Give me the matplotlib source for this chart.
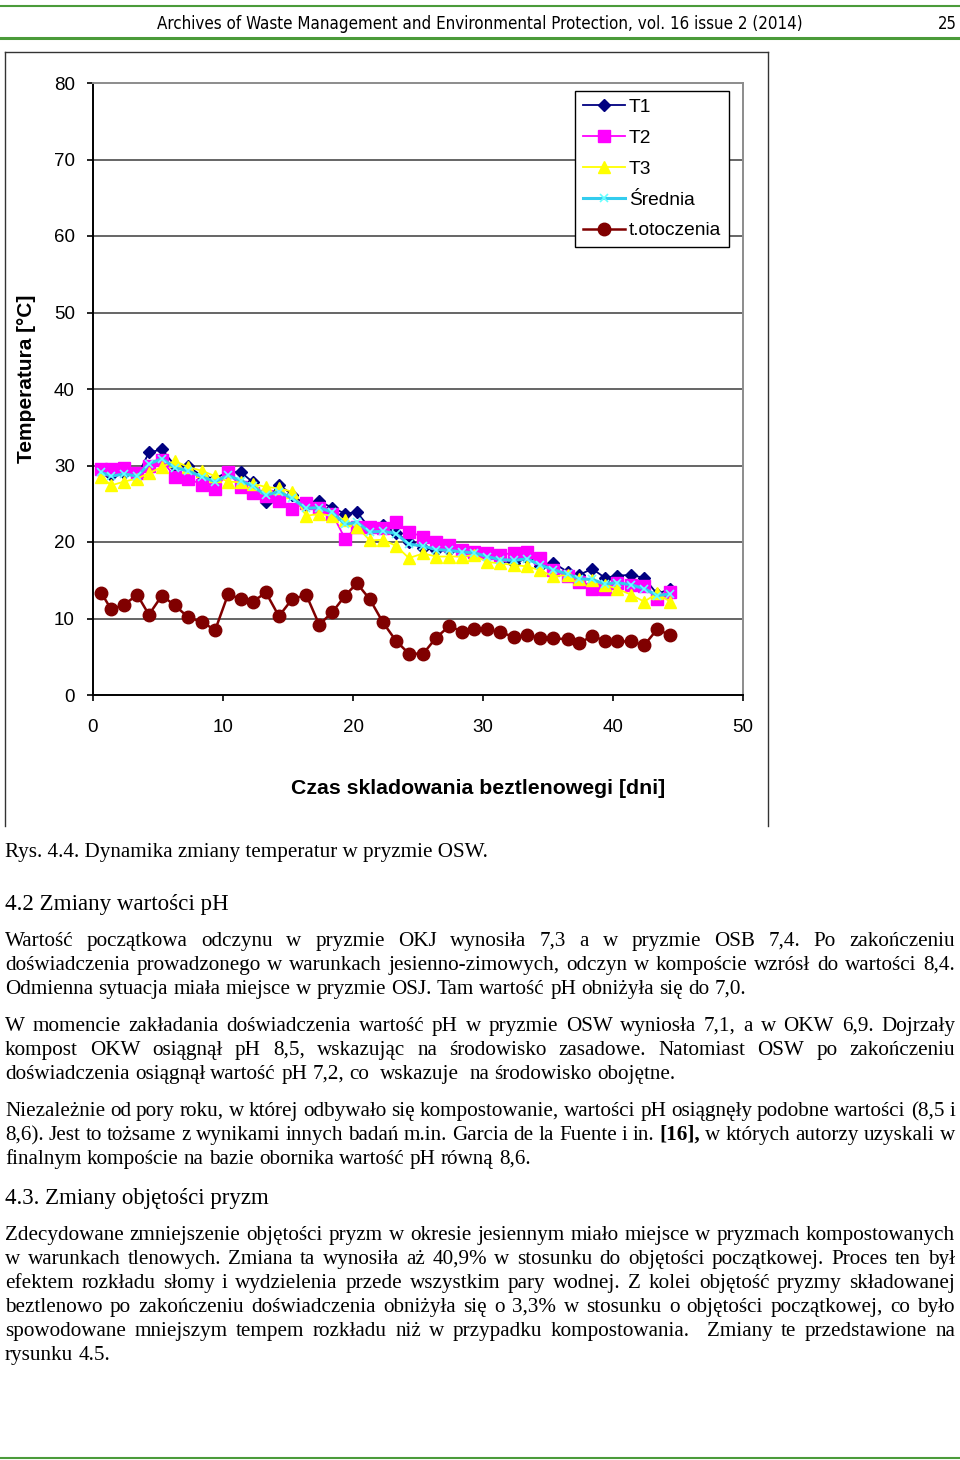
import matplotlib
matplotlib.use('Agg')
import matplotlib.pyplot as plt
from matplotlib.lines import Line2D
from matplotlib import font_manager
from matplotlib.font_manager import FontProperties

W, H = 960, 1460

# --- data ---
days = [0.65, 1.4, 2.4, 3.4, 4.3, 5.3, 6.3, 7.3, 8.4, 9.4, 10.4, 11.4, 12.3, 13.3, 14.3,
        15.3, 16.4, 17.4, 18.4, 19.4, 20.3, 21.3, 22.3, 23.3, 24.3, 25.4, 26.4, 27.4, 28.4, 29.3,
        30.3, 31.3, 32.4, 33.4, 34.4, 35.4, 36.5, 37.4, 38.4, 39.4, 40.3, 41.4, 42.4, 43.4, 44.4]

t1 = [29.3, 28.8, 29.0, 28.6, 31.7, 32.1, 30.0, 29.9, 28.6, 28.3, 29.2, 29.1, 27.8, 25.2, 27.5,
      26.2, 24.8, 25.3, 24.5, 23.7, 23.9, 21.8, 22.2, 21.2, 20.0, 19.2, 18.9, 18.9, 18.9, 18.7,
      18.4, 17.6, 17.2, 17.9, 16.8, 17.3, 16.1, 15.7, 16.5, 15.3, 15.6, 15.7, 15.3, 13.2, 13.9]

t2 = [29.6, 29.5, 29.7, 29.0, 30.0, 30.7, 28.5, 28.3, 27.5, 26.9, 29.1, 27.2, 26.4, 26.0, 25.4,
      24.3, 25.1, 24.4, 23.7, 20.4, 22.0, 22.0, 21.8, 22.6, 21.3, 20.7, 20.0, 19.6, 19.0, 18.7,
      18.6, 18.3, 18.6, 18.7, 17.9, 16.3, 15.5, 14.8, 13.8, 13.9, 14.6, 14.4, 14.2, 12.6, 13.5]

t3 = [28.5, 27.4, 27.9, 28.3, 29.0, 29.8, 30.6, 29.8, 29.3, 28.6, 27.9, 27.8, 27.6, 27.2, 27.0,
      26.6, 23.4, 23.7, 23.4, 22.9, 22.0, 20.2, 20.3, 19.5, 17.9, 18.5, 18.1, 18.1, 18.1, 18.3,
      17.4, 17.2, 17.0, 16.8, 16.3, 15.5, 15.7, 15.2, 15.0, 14.4, 13.9, 13.1, 12.2, 13.3, 12.2]

srednia = [29.1, 28.6, 28.9, 28.6, 30.2, 30.9, 29.7, 29.3, 28.5, 27.9, 28.7, 28.0, 27.3, 26.1, 26.6,
           25.7, 24.4, 24.5, 23.9, 22.3, 22.6, 21.3, 21.4, 21.1, 19.7, 19.5, 19.0, 18.9, 18.7, 18.6,
           18.1, 17.7, 17.6, 17.8, 17.0, 16.4, 15.8, 15.2, 15.1, 14.5, 14.7, 14.4, 13.9, 13.0, 13.2]

otoczenie = [13.3, 11.2, 11.8, 13.1, 10.5, 13.0, 11.7, 10.2, 9.5, 8.5, 13.2, 12.5, 12.2, 13.4, 10.3,
             12.5, 13.1, 9.2, 10.8, 13.0, 14.6, 12.5, 9.5, 7.1, 5.4, 5.4, 7.5, 9.0, 8.3, 8.6,
             8.6, 8.2, 7.6, 7.8, 7.5, 7.4, 7.3, 6.8, 7.7, 7.1, 7.0, 7.0, 6.5, 8.6, 7.8]

x_ticks = [0, 10, 20, 30, 40, 50]
y_ticks = [0, 10, 20, 30, 40, 50, 60, 70, 80]

header = "Archives of Waste Management and Environmental Protection, vol. 16 issue 2 (2014)"
page_no = "25"
caption = "Rys. 4.4. Dynamika zmiany temperatur w pryzmie OSW."
heading_42 = "4.2 Zmiany wartości pH"
heading_43 = "4.3. Zmiany objętości pryzm"

para1 = ["Wartość początkowa odczynu w pryzmie OKJ wynosiła 7,3 a w pryzmie OSB 7,4. Po zakończeniu",
         "doświadczenia prowadzonego w warunkach jesienno-zimowych, odczyn w kompoście wzrósł do wartości 8,4.",
         "Odmienna sytuacja miała miejsce w pryzmie OSJ. Tam wartość pH obniżyła się do 7,0."]
para2 = ["W momencie zakładania doświadczenia wartość pH w pryzmie OSW wyniosła 7,1, a w OKW 6,9. Dojrzały",
         "kompost OKW osiągnął pH 8,5, wskazując na środowisko zasadowe. Natomiast OSW po zakończeniu",
         "doświadczenia osiągnął wartość pH 7,2, co  wskazuje  na środowisko obojętne."]
para3 = ["Niezależnie od pory roku, w której odbywało się kompostowanie, wartości pH osiągnęły podobne wartości (8,5 i",
         "8,6). Jest to tożsame z wynikami innych badań m.in. Garcia de la Fuente i in. *[16], w których autorzy uzyskali w",
         "finalnym kompoście na bazie obornika wartość pH równą 8,6."]
para4 = ["Zdecydowane zmniejszenie objętości pryzm w okresie jesiennym miało miejsce w pryzmach kompostowanych",
         "w warunkach tlenowych. Zmiana ta wynosiła aż 40,9% w stosunku do objętości początkowej. Proces ten był",
         "efektem rozkładu słomy i wydzielenia przede wszystkim pary wodnej. Z kolei objętość pryzmy składowanej",
         "beztlenowo po zakończeniu doświadczenia obniżyła się o 3,3% w stosunku o objętości początkowej, co było",
         "spowodowane mniejszym tempem rozkładu niż w przypadku kompostowania.  Zmiany te przedstawione na",
         "rysunku 4.5."]


def fx(px):
    return px / W


def fy(py):
    return 1 - py / H


fig = plt.figure(figsize=(W / 100, H / 100), dpi=100)
renderer = fig.canvas.get_renderer()

sans = 'Liberation Sans'
serif = 'Liberation Serif'

# a narrow face for the running header, if one is installed
head_fp = None
for fam in ['Liberation Sans Narrow', 'DejaVu Sans']:
    try:
        path = font_manager.findfont(FontProperties(family=fam, stretch='condensed'),
                                     fallback_to_default=False)
        if 'Narrow' in path or 'Condensed' in path:
            head_fp = path
            break
    except Exception:
        pass


def width_px(t):
    return t.get_window_extent(renderer).width


def fit_text(x, y, s, target, size, **kw):
    if head_fp:
        t = fig.text(fx(x), fy(y), s, fontproperties=FontProperties(fname=head_fp, size=size), **kw)
    else:
        t = fig.text(fx(x), fy(y), s, family=sans, fontsize=size, **kw)
    w = width_px(t)
    if w > 0:
        t.set_fontsize(size * target / w)
    return t


# header and green rules
green = '#4b9b3a'
fig.add_artist(Line2D([0, 1], [fy(6), fy(6)], color=green, lw=1.5))
fig.add_artist(Line2D([0, 1], [fy(38), fy(38)], color=green, lw=2.2))
fig.add_artist(Line2D([0, 1], [fy(1458), fy(1458)], color=green, lw=1.5))
fit_text(157, 29, header, 647, 15, va='baseline', ha='left')
fit_text(957, 29, page_no, 19, 15, va='baseline', ha='right')

# chart outer frame
frame_c = '#333333'
fig.add_artist(Line2D([fx(5), fx(5)], [fy(52), fy(826)], color=frame_c, lw=1))
fig.add_artist(Line2D([fx(5), fx(768)], [fy(52), fy(52)], color=frame_c, lw=1))
fig.add_artist(Line2D([fx(768), fx(768)], [fy(52), fy(826)], color=frame_c, lw=1))

# plot area
ax = fig.add_axes([fx(93), fy(695), 650 / W, 612 / H])
ax.plot(days, t1, color='#000080', lw=1.3, marker='D', ms=6.5, label='T1', zorder=3)
ax.plot(days, t2, color='#ff00ff', lw=1.3, marker='s', ms=8, label='T2', zorder=4)
ax.plot(days, t3, color='#ffff00', lw=1.3, marker='^', ms=8.5, label='T3', zorder=5)
ax.plot(days, srednia, color='#33ccee', lw=2.2, marker='x', ms=6, mew=1.2,
        mec='#66ffff', label='Średnia', zorder=6)
ax.plot(days, otoczenie, color='#800000', lw=1.8, marker='o', ms=9, label='t.otoczenia', zorder=3)

ax.set_xlim(0, 50)
ax.set_ylim(0, 80)
ax.set_xticks(x_ticks)
ax.set_yticks(y_ticks)
for yv in y_ticks[1:-1]:
    ax.axhline(yv, color='#3c3c3c', lw=1.1, zorder=1)
for side in ['left', 'bottom']:
    ax.spines[side].set_color('black')
    ax.spines[side].set_linewidth(1.4)
for side in ['top', 'right']:
    ax.spines[side].set_color('#8c8c8c')
    ax.spines[side].set_linewidth(1.4)
ax.tick_params(axis='y', direction='out', length=4, width=1.2, pad=9, labelsize=13.5)
ax.tick_params(axis='x', direction='out', length=4, width=1.2, pad=13, labelsize=13.5)
for lab in ax.get_xticklabels() + ax.get_yticklabels():
    lab.set_family(sans)

fig.text(fx(478), fy(789), "Czas skladowania beztlenowegi [dni]", family=sans,
         fontweight='bold', fontsize=15.3, ha='center', va='center')
fig.text(fx(27), fy(379), "Temperatura [°C]", family=sans, fontweight='bold',
         fontsize=15, ha='center', va='center', rotation=90)

leg = ax.legend(loc='upper left', bbox_to_anchor=(fx(575), fy(91)),
                bbox_transform=fig.transFigure, borderaxespad=0, fancybox=False,
                edgecolor='black', framealpha=1, prop={'family': sans, 'size': 13.8},
                handlelength=2.2, handletextpad=0.2, labelspacing=0.7, borderpad=0.4)
leg.get_frame().set_linewidth(1.0)

# --- text below the chart ---
body_size = 15.2


def place_line(line, base_y, last, x0=5, x1=955, size=body_size):
    words = line.split(' ')
    arts = []
    for wd in words:
        bold = wd.startswith('*')
        s = wd[1:] if bold else wd
        t = fig.text(0, fy(base_y), s, family=serif, fontsize=size,
                     fontweight='bold' if bold else 'normal', va='baseline', ha='left')
        arts.append((t, width_px(t) if s else 0.0))
    total = sum(w for _, w in arts)
    space = 0.25 * size * 100 / 72
    if not last and len(arts) > 1:
        space = (x1 - x0 - total) / (len(arts) - 1)
    x = x0
    for t, w in arts:
        t.set_x(fx(x))
        x += w + space


def place_para(lines, first_base, pitch=24):
    for i, ln in enumerate(lines):
        place_line(ln, first_base + i * pitch, last=(i == len(lines) - 1))


fig.text(fx(5), fy(857), caption, family=serif, fontsize=body_size, va='baseline')
fig.text(fx(5), fy(910), heading_42, family=serif, fontsize=16.6, va='baseline')
place_para(para1, 946)
place_para(para2, 1031)
place_para(para3, 1116)
fig.text(fx(5), fy(1204), heading_43, family=serif, fontsize=16.5, va='baseline')
place_para(para4, 1240)

fig.savefig('out.png', dpi=100)
